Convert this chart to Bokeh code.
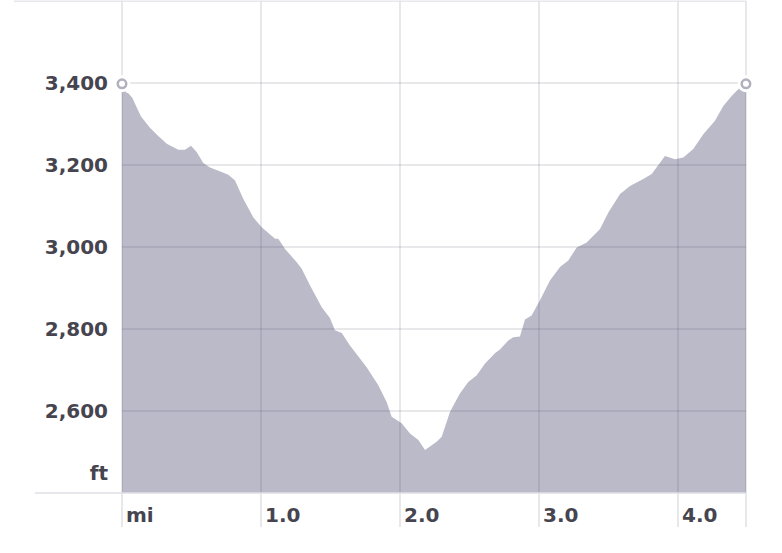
from bokeh.plotting import figure
from bokeh.models import ColumnDataSource
from bokeh.embed import file_html
from bokeh.resources import INLINE
from bokeh.core.properties import value

# ---- data (distance in miles, elevation in feet) ----
dist = [0.000, 0.030, 0.045, 0.074, 0.106, 0.137, 0.201, 0.261, 0.322, 0.405, 0.453,
        0.496, 0.537, 0.585, 0.633, 0.717, 0.765, 0.813, 0.873, 0.945, 1.005,
        1.101, 1.124, 1.173, 1.257, 1.293, 1.353, 1.437, 1.496, 1.532, 1.581,
        1.640, 1.712, 1.760, 1.844, 1.904, 1.940, 2.012, 2.072, 2.132, 2.180,
        2.264, 2.300, 2.360, 2.432, 2.491, 2.552, 2.612, 2.683, 2.719, 2.779,
        2.815, 2.863, 2.899, 2.947, 3.007, 3.079, 3.151, 3.211, 3.271, 3.343,
        3.439, 3.499, 3.583, 3.655, 3.750, 3.811, 3.906, 3.978, 4.038, 4.110,
        4.182, 4.266, 4.326, 4.386, 4.446, 4.489]
elev = [3398, 3377, 3375, 3364, 3340, 3318, 3291, 3271, 3252, 3237, 3237,
        3247, 3232, 3205, 3194, 3183, 3176, 3162, 3117, 3072, 3048,
        3020, 3020, 2995, 2963, 2947, 2906, 2853, 2827, 2797, 2790,
        2760, 2728, 2707, 2663, 2622, 2586, 2570, 2545, 2529, 2505,
        2525, 2537, 2598, 2643, 2671, 2687, 2716, 2741, 2750, 2772,
        2780, 2782, 2823, 2833, 2870, 2918, 2951, 2967, 2999, 3011,
        3044, 3084, 3129, 3149, 3166, 3178, 3222, 3214, 3218, 3239,
        3275, 3308, 3344, 3368, 3389, 3398]

x_ticks = [0, 1, 2, 3, 4]
x_labels = ["mi", "1.0", "2.0", "3.0", "4.0"]
y_ticks = [2400, 2600, 2800, 3000, 3200, 3400]
y_labels = ["ft", "2,600", "2,800", "3,000", "3,200", "3,400"]
y_top = 3600

# ---- geometry (pixel scale) ----
W, H = 774, 545
ORIGIN = 0.5
PX_PER_MI = 139.0
PX_PER_FT = 0.41
x0 = -(122 - ORIGIN) / PX_PER_MI
x1 = x0 + W / PX_PER_MI
y1 = 3400 + (83 - ORIGIN) / PX_PER_FT
y0 = y1 - H / PX_PER_FT

def px_x(px):
    return px / PX_PER_MI

def px_y(px):
    return px / PX_PER_FT

base = y_ticks[0]
x_end = dist[-1]
grid_bottom = base - px_y(34)

p = figure(width=W, height=H, x_range=(x0, x1), y_range=(y0, y1),
           output_backend="svg", toolbar_location=None, min_border=0,
           border_fill_color="white", background_fill_color="white",
           outline_line_color=None)
p.axis.visible = False
p.grid.visible = False

# area
src = ColumnDataSource(dict(x=dist, y=elev, b=[base] * len(dist)))
p.varea(x="x", y1="b", y2="y", source=src, fill_color="#bbbac8")

# grid lines (semi-transparent so they darken over the fill)
gcol = "#4a4862"
galpha = 0.17
vx = x_ticks + [x_end]
p.segment(x0=vx, y0=[grid_bottom] * len(vx), x1=vx, y1=[y1] * len(vx),
          line_color=gcol, line_alpha=galpha, line_width=1.5)
hy = y_ticks[1:]
p.segment(x0=[0] * len(hy), y0=hy, x1=[x_end] * len(hy), y1=hy,
          line_color=gcol, line_alpha=galpha, line_width=1.5)
p.segment(x0=[-px_x(87)], y0=[base], x1=[x_end], y1=[base],
          line_color="#e0dfe6", line_width=1.5)
p.segment(x0=[-px_x(108)], y0=[y_top], x1=[x_end], y1=[y_top],
          line_color="#e0dfe6", line_width=1.5)

# end markers
ex = [dist[0], dist[-1]]
ey = [elev[0], elev[-1]]
p.scatter(ex, ey, size=17, fill_color="white", line_color=None)
p.scatter(ex, ey, size=8.5, fill_color="white", line_color="#b2b0bf", line_width=2.5)

# y labels
ylab_y = [v + px_y(0.5) for v in y_ticks]
ylab_y[0] = base + px_y(20.5)
p.text(x=[-px_x(14)] * len(y_ticks), y=ylab_y, text=y_labels,
       text_align="right", text_baseline="alphabetic",
       text_font=value("DejaVu Sans"), text_font_style="bold",
       text_font_size="20px", text_color="#46454f")

# x labels
p.text(x=[v + px_x(4) for v in x_ticks], y=[base - px_y(21.5)] * len(x_ticks),
       text=x_labels, text_align="left", text_baseline="alphabetic",
       text_font=value("DejaVu Sans"), text_font_style="bold",
       text_font_size="20px", text_color="#46454f")

open("out.html", "w").write(file_html(p, INLINE))
